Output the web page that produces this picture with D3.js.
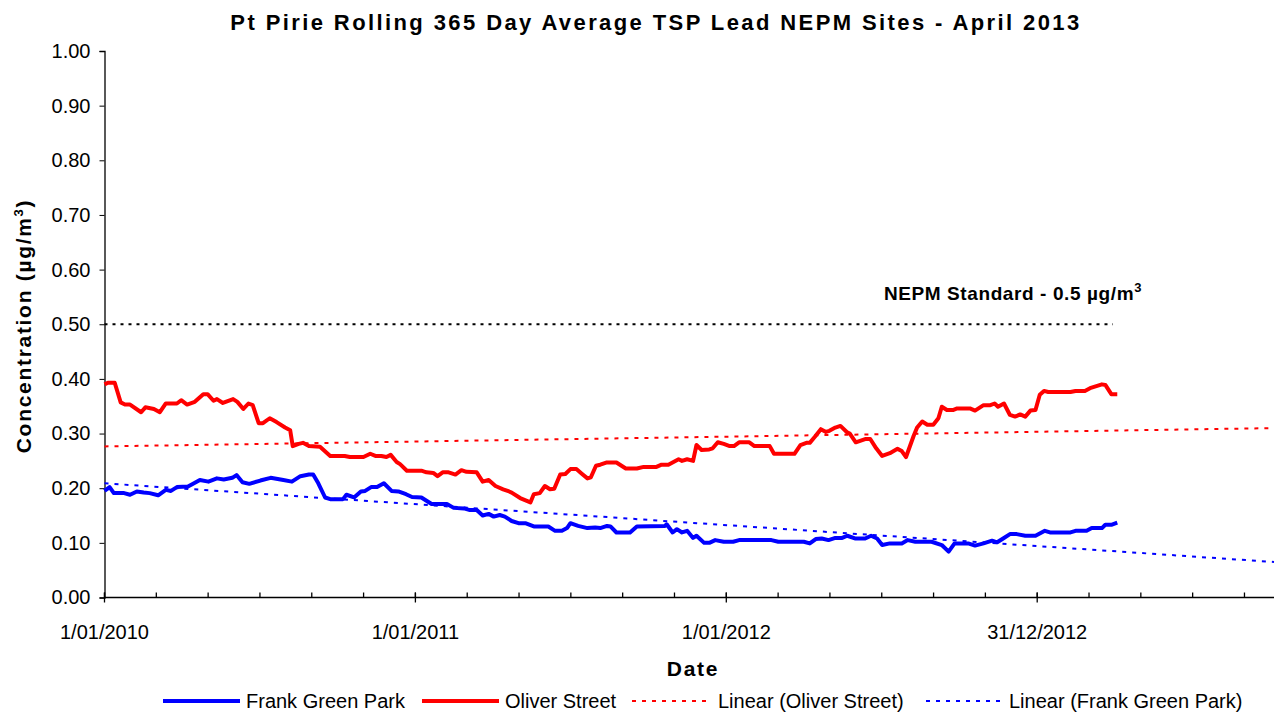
<!DOCTYPE html>
<style>
	body { margin: 0; background: #fff; }
	text { font-family: "Liberation Sans", Arial, sans-serif; fill: #000; }
	.title { font-size: 22px; font-weight: bold; letter-spacing: 2.4px; }
	.axis-title { font-size: 21px; font-weight: bold; letter-spacing: 1.7px; }
	.tick-label { font-size: 20px; }
	.legend text { font-size: 20px; }
	.nepm-label { font-size: 19px; font-weight: bold; letter-spacing: 0.6px; }
	.axis-line { stroke: #000; stroke-width: 1.3px; fill: none; }
	.series { fill: none; stroke-width: 4px; stroke-linejoin: round; }
	.trend { fill: none; stroke-width: 2px; stroke-dasharray: 4,6; }
</style>

<head>
	<script src="https://d3js.org/d3.v7.min.js"></script>
</head>
<body>
	<svg width="1277" height="715"></svg>
</body>
<script>
// Oliver Street rolling 365 day average (ug/m3)
var oliverDates = [
	"2010-01-01","2010-01-05","2010-01-13","2010-01-20","2010-01-25","2010-01-31","2010-02-13","2010-02-18","2010-02-28","2010-03-07",
	"2010-03-14","2010-03-27","2010-04-01","2010-04-08","2010-04-17","2010-04-27","2010-05-02","2010-05-09","2010-05-13","2010-05-20",
	"2010-06-01","2010-06-06","2010-06-13","2010-06-19","2010-06-24","2010-07-01","2010-07-06","2010-07-14","2010-07-22","2010-08-01",
	"2010-08-07","2010-08-10","2010-08-17","2010-08-22","2010-08-29","2010-09-11","2010-09-23","2010-10-10","2010-10-16","2010-11-01",
	"2010-11-09","2010-11-15","2010-11-22","2010-11-28","2010-12-03","2010-12-10","2010-12-14","2010-12-22",
	"2011-01-08","2011-01-14","2011-01-22","2011-01-27","2011-02-02","2011-02-09","2011-02-17","2011-02-24","2011-03-02","2011-03-14",
	"2011-03-21","2011-03-28","2011-04-05","2011-04-14","2011-04-21","2011-04-24","2011-05-04","2011-05-16","2011-05-20","2011-05-27",
	"2011-06-02","2011-06-08","2011-06-13","2011-06-20","2011-06-26","2011-07-02","2011-07-09","2011-07-15","2011-07-22","2011-07-26",
	"2011-08-01","2011-08-06","2011-08-13","2011-08-25","2011-09-05","2011-09-18","2011-09-26","2011-10-11","2011-10-17","2011-10-25",
	"2011-11-06","2011-11-10","2011-11-16","2011-11-23","2011-11-27","2011-12-03","2011-12-12","2011-12-16","2011-12-22","2011-12-29",
	"2012-01-05","2012-01-10","2012-01-16","2012-01-28","2012-02-03","2012-02-21","2012-02-26","2012-03-21","2012-03-28","2012-04-04",
	"2012-04-08","2012-04-14","2012-04-21","2012-04-27","2012-05-01","2012-05-08","2012-05-14","2012-05-22","2012-05-25","2012-06-01",
	"2012-06-12","2012-06-18","2012-06-25","2012-07-02","2012-07-11","2012-07-20","2012-07-25","2012-07-30","2012-08-08","2012-08-12",
	"2012-08-18","2012-08-24","2012-08-31","2012-09-06","2012-09-10","2012-09-16","2012-09-23","2012-09-28","2012-10-13","2012-10-19",
	"2012-10-29","2012-11-06","2012-11-11","2012-11-15","2012-11-22","2012-11-29","2012-12-05","2012-12-11","2012-12-17","2012-12-23","2012-12-29",
	"2013-01-03","2013-01-08","2013-01-13","2013-02-08","2013-02-14","2013-02-25","2013-03-03","2013-03-17","2013-03-21","2013-03-28","2013-04-04"
];
var oliverValues = [
	0.390,0.393,0.393,0.357,0.353,0.353,0.339,0.348,0.345,0.339,
	0.355,0.355,0.361,0.353,0.358,0.372,0.372,0.360,0.363,0.356,
	0.363,0.358,0.345,0.355,0.352,0.319,0.319,0.328,0.321,0.311,
	0.306,0.277,0.281,0.283,0.277,0.276,0.259,0.259,0.257,0.257,
	0.263,0.259,0.259,0.257,0.261,0.248,0.244,0.232,
	0.232,0.229,0.228,0.222,0.229,0.229,0.225,0.233,0.230,0.229,
	0.212,0.215,0.204,0.198,0.194,0.192,0.182,0.174,0.189,0.191,
	0.204,0.198,0.199,0.225,0.226,0.235,0.235,0.227,0.218,0.220,
	0.241,0.243,0.247,0.247,0.236,0.236,0.239,0.239,0.243,0.243,
	0.253,0.250,0.253,0.250,0.279,0.270,0.271,0.273,0.284,0.281,
	0.277,0.277,0.284,0.284,0.277,0.277,0.263,0.263,0.279,0.283,
	0.283,0.294,0.308,0.303,0.305,0.311,0.314,0.302,0.300,0.284,
	0.290,0.290,0.273,0.259,0.264,0.272,0.268,0.257,0.296,0.311,
	0.322,0.316,0.316,0.328,0.349,0.343,0.343,0.346,0.346,0.342,
	0.352,0.352,0.355,0.349,0.355,0.334,0.331,0.335,0.331,0.342,0.343,
	0.371,0.378,0.376,0.376,0.378,0.378,0.383,0.390,0.389,0.372,0.372
];

// Frank Green Park rolling 365 day average (ug/m3)
var frankDates = [
	"2010-01-01","2010-01-07","2010-01-12","2010-01-24","2010-01-31","2010-02-08","2010-02-16","2010-02-23","2010-03-05","2010-03-14",
	"2010-03-20","2010-03-27","2010-04-09","2010-04-15","2010-04-23","2010-05-03","2010-05-13","2010-05-21","2010-05-31","2010-06-05",
	"2010-06-12","2010-06-20","2010-07-03","2010-07-15","2010-07-30","2010-08-09","2010-08-19","2010-08-29","2010-09-03","2010-09-09",
	"2010-09-17","2010-09-23","2010-10-08","2010-10-12","2010-10-21","2010-10-29","2010-11-03","2010-11-10","2010-11-17","2010-11-25",
	"2010-12-04","2010-12-12","2010-12-21","2010-12-28",
	"2011-01-08","2011-01-20","2011-02-07","2011-02-15","2011-02-27","2011-03-06","2011-03-14","2011-03-21","2011-03-28","2011-04-03",
	"2011-04-10","2011-04-16","2011-04-24","2011-05-02","2011-05-10","2011-05-20","2011-06-06","2011-06-14","2011-06-22","2011-06-28",
	"2011-07-02","2011-07-11","2011-07-22","2011-07-31","2011-08-06","2011-08-14","2011-08-18","2011-08-25","2011-09-10","2011-09-18",
	"2011-10-21","2011-10-23","2011-10-30","2011-11-04","2011-11-10","2011-11-16","2011-11-23","2011-11-27","2011-12-06","2011-12-12",
	"2011-12-19","2011-12-29",
	"2012-01-09","2012-01-16","2012-02-23","2012-03-02","2012-04-01","2012-04-08","2012-04-15","2012-04-22","2012-04-30","2012-05-08",
	"2012-05-16","2012-05-22","2012-05-31","2012-06-12","2012-06-19","2012-06-26","2012-07-02","2012-07-11","2012-07-25","2012-08-01",
	"2012-08-10","2012-08-29","2012-09-10","2012-09-18","2012-09-25","2012-10-11","2012-10-19","2012-10-29","2012-11-08","2012-11-14",
	"2012-11-21","2012-11-29","2012-12-07","2012-12-17","2012-12-29",
	"2013-01-09","2013-01-15","2013-02-08","2013-02-14","2013-02-27","2013-03-05","2013-03-17","2013-03-21","2013-03-28","2013-04-04"
];
var frankValues = [
	0.195,0.202,0.191,0.191,0.188,0.194,0.192,0.191,0.187,0.197,
	0.195,0.202,0.203,0.208,0.215,0.212,0.218,0.216,0.219,0.224,
	0.211,0.208,0.214,0.219,0.215,0.212,0.222,0.225,0.225,0.209,
	0.183,0.180,0.180,0.188,0.183,0.194,0.195,0.202,0.202,0.209,
	0.195,0.194,0.189,0.184,
	0.183,0.171,0.171,0.164,0.163,0.160,0.160,0.150,0.153,0.148,
	0.151,0.148,0.140,0.136,0.136,0.130,0.130,0.122,0.122,0.127,
	0.136,0.131,0.127,0.128,0.127,0.131,0.130,0.119,0.119,0.130,
	0.131,0.134,0.119,0.125,0.119,0.122,0.109,0.113,0.100,0.100,
	0.105,0.102,
	0.102,0.105,0.105,0.102,0.102,0.099,0.107,0.108,0.105,0.109,
	0.109,0.113,0.108,0.108,0.113,0.108,0.096,0.099,0.099,0.105,
	0.102,0.102,0.096,0.084,0.099,0.099,0.095,0.099,0.104,0.101,
	0.108,0.116,0.116,0.113,0.113,
	0.122,0.119,0.119,0.122,0.122,0.127,0.127,0.133,0.133,0.137
];

// linear trend values at axis start and axis end
var oliverTrend = [0.2765, 0.310];
var frankTrend = [0.209, 0.065];
var nepmStandard = 0.5;

var axisStart = "2010-01-01", axisEnd = "2013-10-05", nepmEnd = "2013-03-30";
var xTickDates = ["2010-01-01","2011-01-01","2012-01-01","2012-12-31"];
var xTickLabels = ["1/01/2010","1/01/2011","1/01/2012","31/12/2012"];
var yTicks = [0,0.1,0.2,0.3,0.4,0.5,0.6,0.7,0.8,0.9,1.0];
var legendLabels = ["Frank Green Park","Oliver Street","Linear (Oliver Street)","Linear (Frank Green Park)"];

var svg = d3.select("svg");
var parse = d3.utcParse("%Y-%m-%d");
var plotLeft = 104.5, plotRight = 1274, plotTop = 51, plotBottom = 597.5;

var x = d3.scaleUtc().domain([parse(axisStart), parse(axisEnd)]).range([plotLeft, plotRight]);
var y = d3.scaleLinear().domain([0, 1]).range([plotBottom, plotTop]);

function toPoints(dates, values) {
	return dates.map(function(d, i) { return [parse(d), values[i]]; });
}
var line = d3.line()
	.x(function(d) { return x(d[0]); })
	.y(function(d) { return y(d[1]); });

// title
svg.append("text").attr("class", "title")
	.attr("x", 656).attr("y", 30).attr("text-anchor", "middle")
	.text("Pt Pirie Rolling 365 Day Average TSP Lead NEPM Sites - April 2013");

// y axis
var yAxis = svg.append("g")
	.attr("transform", "translate(" + plotLeft + ",0)")
	.call(d3.axisLeft(y).tickValues(yTicks).tickFormat(d3.format(".2f")).tickSize(5).tickPadding(9));
yAxis.select(".domain").attr("stroke-width", 1.3);
yAxis.selectAll("text").attr("class", "tick-label").attr("font-family", null).attr("font-size", null);
yAxis.attr("font-family", null).attr("font-size", null);

// x axis: minor ticks every sixth of a year, major at year marks
var dayMs = 86400000, startMs = parse(axisStart).getTime(), endMs = parse(axisEnd).getTime();
var minor = d3.range(startMs, endMs, 365 / 6 * dayMs).map(function(t) { return new Date(t); });
var gx = svg.append("g");
gx.append("line").attr("class", "axis-line")
	.attr("x1", plotLeft).attr("x2", plotRight).attr("y1", plotBottom).attr("y2", plotBottom);
gx.selectAll(".minor").data(minor).enter().append("line")
	.attr("class", "axis-line")
	.attr("x1", function(d) { return x(d); }).attr("x2", function(d) { return x(d); })
	.attr("y1", plotBottom).attr("y2", plotBottom - 5);
gx.selectAll(".major").data(xTickDates).enter().append("line")
	.attr("class", "axis-line")
	.attr("x1", function(d) { return x(parse(d)); }).attr("x2", function(d) { return x(parse(d)); })
	.attr("y1", plotBottom - 5).attr("y2", plotBottom + 5);
gx.selectAll(".xlab").data(xTickDates).enter().append("text")
	.attr("class", "tick-label")
	.attr("x", function(d) { return x(parse(d)); }).attr("y", 639)
	.attr("text-anchor", "middle")
	.text(function(d, i) { return xTickLabels[i]; });

// axis titles
svg.append("text").attr("class", "axis-title")
	.attr("x", 693).attr("y", 676).attr("text-anchor", "middle").text("Date");
var yt = svg.append("text").attr("class", "axis-title")
	.attr("transform", "translate(31,326) rotate(-90)").attr("text-anchor", "middle");
yt.append("tspan").text("Concentration (\u00b5g/m");
yt.append("tspan").attr("dy", -8).attr("font-size", 13).text("3");
yt.append("tspan").attr("dy", 8).text(")");

// NEPM standard line
svg.append("line")
	.attr("x1", x(parse(axisStart))).attr("x2", x(parse(nepmEnd)))
	.attr("y1", y(nepmStandard)).attr("y2", y(nepmStandard))
	.attr("stroke", "#000").attr("stroke-width", 1.8).attr("stroke-dasharray", "3,5");
var nl = svg.append("text").attr("class", "nepm-label")
	.attr("x", 1142).attr("y", 300).attr("text-anchor", "end");
nl.append("tspan").text("NEPM Standard - 0.5 \u00b5g/m");
nl.append("tspan").attr("dy", -8).attr("font-size", 13).text("3");

// series
svg.append("path").datum(toPoints(frankDates, frankValues))
	.attr("class", "series").attr("stroke", "#0000ff").attr("d", line);
svg.append("path").datum(toPoints(oliverDates, oliverValues))
	.attr("class", "series").attr("stroke", "#ff0000").attr("d", line);

// trend lines
svg.append("path").datum([[parse(axisStart), oliverTrend[0]], [parse(axisEnd), oliverTrend[1]]])
	.attr("class", "trend").attr("stroke", "#ff0000").attr("d", line);
svg.append("path").datum([[parse(axisStart), frankTrend[0]], [parse(axisEnd), frankTrend[1]]])
	.attr("class", "trend").attr("stroke", "#0000ff").attr("d", line);

// legend
var legendItems = [
	{x1: 163, x2: 240, tx: 246, color: "#0000ff", dashed: false},
	{x1: 422, x2: 499, tx: 505, color: "#ff0000", dashed: false},
	{x1: 632, x2: 708, tx: 718, color: "#ff0000", dashed: true},
	{x1: 926, x2: 1002, tx: 1009, color: "#0000ff", dashed: true}
];
var legend = svg.append("g").attr("class", "legend");
legendItems.forEach(function(d, i) {
	legend.append("line")
		.attr("x1", d.x1).attr("x2", d.x2).attr("y1", 701).attr("y2", 701)
		.attr("stroke", d.color)
		.attr("stroke-width", d.dashed ? 2 : 4)
		.attr("stroke-dasharray", d.dashed ? "4,6" : null);
	legend.append("text").attr("x", d.tx).attr("y", 708).text(legendLabels[i]);
});
</script>
